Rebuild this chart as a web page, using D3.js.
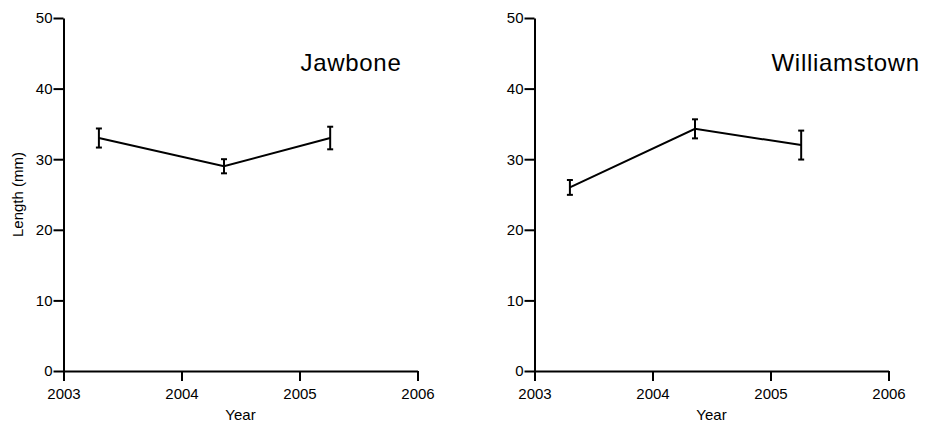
<!DOCTYPE html>
<html>
<head>
<meta charset="UTF-8">
<title>Length by year</title>
<script src="https://d3js.org/d3.v7.min.js"></script>
<style>
body { margin:0; background:white; }
text { font-family: "Liberation Sans", Arial, sans-serif; fill:black; }
</style>
</head>
<body>
<script type="text/javascript">
// values
var sites = ["Jawbone", "Williamstown"]
var years = [2003.30, 2004.36, 2005.26]
var jawboneMean = [33.0, 29.0, 33.0]
var jawboneErr = [1.35, 1.0, 1.6]
var williamstownMean = [26.0, 34.3, 32.0]
var williamstownErr = [1.05, 1.35, 2.05]
var xTicks = [2003, 2004, 2005, 2006]
var yTicks = [0, 10, 20, 30, 40, 50]

var svg = d3.select("body")
 .append("svg")
 .attr("width", 925)
 .attr("height", 426)
 .style("background", "white")

var panels = [
  {name: sites[0], mean: jawboneMean, err: jawboneErr, left: 63.5, ylabel: true},
  {name: sites[1], mean: williamstownMean, err: williamstownErr, left: 534.5, ylabel: false}
]

var plotTop = 18, plotBottom = 371, plotW = 354

var y = d3.scaleLinear().domain([0, 50]).range([plotBottom, plotTop])

panels.forEach(function(p) {
    var x = d3.scaleLinear().domain([2003, 2006]).range([p.left, p.left + plotW])
    var g = svg.append("g")

    g.append("g")
      .attr("transform", "translate(0," + plotBottom + ")")
      .call(d3.axisBottom(x).tickValues(xTicks).tickFormat(d3.format("d"))
            .tickSize(10).tickSizeOuter(0).tickPadding(7))
    g.append("g")
      .attr("transform", "translate(" + p.left + ",0)")
      .call(d3.axisLeft(y).tickValues(yTicks).tickSize(10).tickSizeOuter(0).tickPadding(1))

    g.selectAll(".domain, .tick line").attr("stroke", "black").attr("stroke-width", 2)
    g.selectAll(".tick text").style("font-size", "15px").attr("fill", "black")

    var pts = years.map(function(yr, i) { return {x: yr, m: p.mean[i], e: p.err[i]} })

    g.append("path")
      .datum(pts)
      .attr("fill", "none")
      .attr("stroke", "black")
      .attr("stroke-width", 2)
      .attr("d", d3.line().x(function(d) { return x(d.x) }).y(function(d) { return y(d.m) }))

    var eb = g.selectAll(".err").data(pts).enter().append("g").attr("class", "err")
    eb.append("line")
      .attr("x1", function(d) { return x(d.x) }).attr("x2", function(d) { return x(d.x) })
      .attr("y1", function(d) { return y(d.m + d.e) }).attr("y2", function(d) { return y(d.m - d.e) })
    eb.append("line")
      .attr("x1", function(d) { return x(d.x) - 3 }).attr("x2", function(d) { return x(d.x) + 3 })
      .attr("y1", function(d) { return y(d.m + d.e) }).attr("y2", function(d) { return y(d.m + d.e) })
    eb.append("line")
      .attr("x1", function(d) { return x(d.x) - 3 }).attr("x2", function(d) { return x(d.x) + 3 })
      .attr("y1", function(d) { return y(d.m - d.e) }).attr("y2", function(d) { return y(d.m - d.e) })
    eb.selectAll("line").attr("stroke", "black").attr("stroke-width", 2)

    // site name
    g.append("text")
      .attr("x", p.left + 237)
      .attr("y", 71)
      .style("font-size", "24px")
      .style("letter-spacing", "0.7px")
      .text(p.name)

    g.append("text")
      .attr("x", p.left + plotW / 2)
      .attr("y", 420)
      .attr("text-anchor", "middle")
      .style("font-size", "15px")
      .text("Year")

    if (p.ylabel) {
      g.append("text")
        .attr("transform", "translate(23," + (plotTop + plotBottom) / 2 + ") rotate(-90)")
        .attr("text-anchor", "middle")
        .style("font-size", "15px")
        .text("Length (mm)")
    }
})
</script>
</body>
</html>
